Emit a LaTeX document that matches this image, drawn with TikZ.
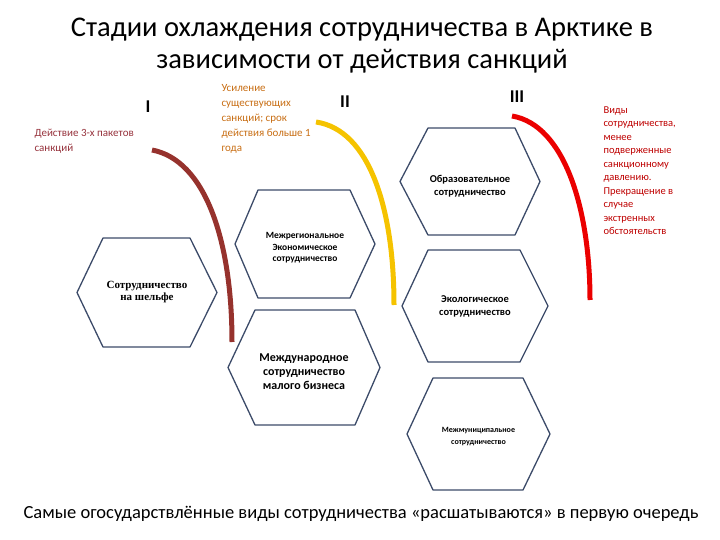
\documentclass[tikz,border=0pt]{standalone}
\usepackage{fontspec}
\setmainfont{Carlito}
\newfontfamily\serifru{Liberation Serif}
\begin{document}
\begin{tikzpicture}[x=1pt,y=-1pt,
  hexline/.style={draw={rgb,255:red,60;green,75;blue,105}, line width=1.3pt, fill=white, line join=round},
  hextext/.style={align=center, font=\fontsize{10.5}{13}\selectfont\bfseries},
  arcline/.style={line width=5pt},
  stage/.style={font=\fontsize{18}{20}\selectfont\bfseries},
  note/.style={align=left, anchor=north west}]
\useasboundingbox (0,0) rectangle (720,540);
\newcommand{\hexa}[7]{%
  \draw[hexline] (#1,{(#5+#6)/2}) -- (#2,#5) -- (#3,#5) -- (#4,{(#5+#6)/2}) -- (#3,#6) -- (#2,#6) -- cycle;
  \node[hextext] (#7) at ({(#1+#4)/2},{(#5+#6)/2}) {};}
\node[align=center, font=\fontsize{28.5}{32}\selectfont] (title) at (362,46) {Стадии охлаждения сотрудничества в Арктике в\\зависимости от действия санкций};
\hexa{77}{103}{190}{217}{238}{347}{h1}
\hexa{235}{258}{350}{375}{190}{298}{h2}
\hexa{228}{255}{355}{380}{310}{425}{h3}
\hexa{400}{428}{515}{540}{128}{235}{h4}
\hexa{402}{428}{520}{548}{250}{362}{h5}
\hexa{407}{433}{523}{550}{378}{490}{h6}
\node[align=center, font=\serifru\fontsize{11}{12}\selectfont\bfseries] at (h1) {Сотрудничество\\на шельфе};
\node[hextext, font=\fontsize{9.5}{11.5}\selectfont\bfseries] at ([yshift=-4pt]h2) {Межрегиональное\\Экономическое\\сотрудничество};
\node[hextext, font=\fontsize{12}{14}\selectfont\bfseries] at ([yshift=-4pt]h3) {Международное\\сотрудничество\\малого бизнеса};
\node[hextext] at ([yshift=-5pt]h4) {Образовательное\\сотрудничество};
\node[hextext] at (h5) {Экологическое\\сотрудничество};
\node[hextext, font=\fontsize{8}{12}\selectfont\bfseries] at ([yshift=-3pt]h6) {Межмуниципальное\\сотрудничество};
\coordinate (b1) at (152,150); \coordinate (b2) at (232,342);
\coordinate (y1) at (316,122); \coordinate (y2) at (394,305);
\coordinate (r1) at (512,116); \coordinate (r2) at (590,300);
\draw[arcline, draw={rgb,255:red,150;green,50;blue,45}] (b1) .. controls (205,160) and (232,240) .. (b2);
\draw[arcline, draw={rgb,255:red,245;green,195;blue,0}] (y1) .. controls (370,130) and (394,210) .. (y2);
\draw[arcline, draw={rgb,255:red,235;green,0;blue,0}] (r1) .. controls (565,125) and (590,210) .. (r2);
\node[stage] (s1) at (148,107) {I};
\node[stage] (s2) at (345,102) {II};
\node[stage] (s3) at (517,97) {III};
\node[note, text={rgb,255:red,150;green,50;blue,60}, font=\fontsize{11}{15}\selectfont] (n1) at (31,126) {Действие 3-х пакетов\\санкций};
\node[note, text={rgb,255:red,200;green,110;blue,20}, font=\fontsize{11}{15}\selectfont] (n2) at (218,81) {Усиление\\существующих\\санкций; срок\\действия больше 1\\года};
\node[note, text={rgb,255:red,190;green,0;blue,0}, font=\fontsize{10.5}{13.5}\selectfont] (n3) at (600,103) {Виды\\сотрудничества,\\менее\\подверженные\\санкционному\\давлению.\\Прекращение в\\случае\\экстренных\\обстоятельств};
\node[font=\fontsize{18.5}{20}\selectfont] (foot) at (361,514) {Самые огосударствлённые виды сотрудничества «расшатываются» в первую очередь};
\end{tikzpicture}
\end{document}
